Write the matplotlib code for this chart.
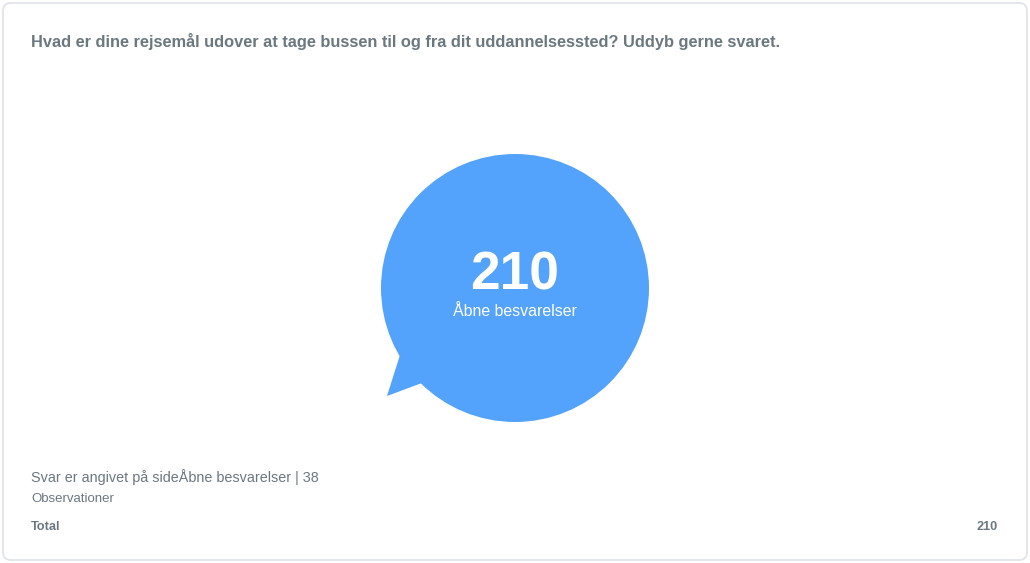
import matplotlib.pyplot as plt
from matplotlib.patches import Circle, Polygon, FancyBboxPatch

plt.rcParams['font.family'] = ['Liberation Sans', 'DejaVu Sans']

# data
TITLE = "Hvad er dine rejsemål udover at tage bussen til og fra dit uddannelsessted? Uddyb gerne svaret."
TOTAL = 210
TOTAL_LABEL = "Åbne besvarelser"
PAGE_NOTE = "Svar er angivet på sideÅbne besvarelser | 38"
OBS_LABEL = "Observationer"
ROW_LABEL = "Total"

BUBBLE_COLOR = '#53a3fd'
TEXT_COLOR = '#6b7880'

fig = plt.figure(figsize=(10.3, 5.63), dpi=100)
ax = fig.add_axes([0, 0, 1, 1])
ax.set_xlim(0, 1030)
ax.set_ylim(563, 0)
ax.axis('off')

# card border
card = FancyBboxPatch((3, 3), 1024, 557, boxstyle='round,pad=0,rounding_size=8',
                      facecolor='white', edgecolor='#e1e4e8', linewidth=1.3)
ax.add_patch(card)

ax.text(31, 42, TITLE, fontsize=11.8, fontweight='bold', color=TEXT_COLOR,
        ha='left', va='center')

# speech bubble
cx, cy, r = 515, 288, 134
ax.add_patch(Circle((cx, cy), r, facecolor=BUBBLE_COLOR, edgecolor='none'))
ax.add_patch(Polygon([(400, 355), (387, 396), (430, 380)], closed=True,
                     facecolor=BUBBLE_COLOR, edgecolor='none'))

ax.text(cx, 276, str(TOTAL), fontsize=38.3, fontweight='bold', color='white',
        ha='center', va='center')
ax.text(cx, 312, TOTAL_LABEL, fontsize=11.4, color='white',
        ha='center', va='center')

# footer
ax.text(31, 477, PAGE_NOTE, fontsize=10.4, color=TEXT_COLOR, ha='left', va='center')
ax.text(31, 499, OBS_LABEL, fontsize=9.5, color=TEXT_COLOR, ha='left', va='center')
ax.text(31, 527, ROW_LABEL, fontsize=9.2, fontweight='bold', color=TEXT_COLOR,
        ha='left', va='center')
ax.text(998, 527, str(TOTAL), fontsize=9.2, fontweight='bold', color=TEXT_COLOR,
        ha='right', va='center')

fig.savefig('out.png', dpi=100)
